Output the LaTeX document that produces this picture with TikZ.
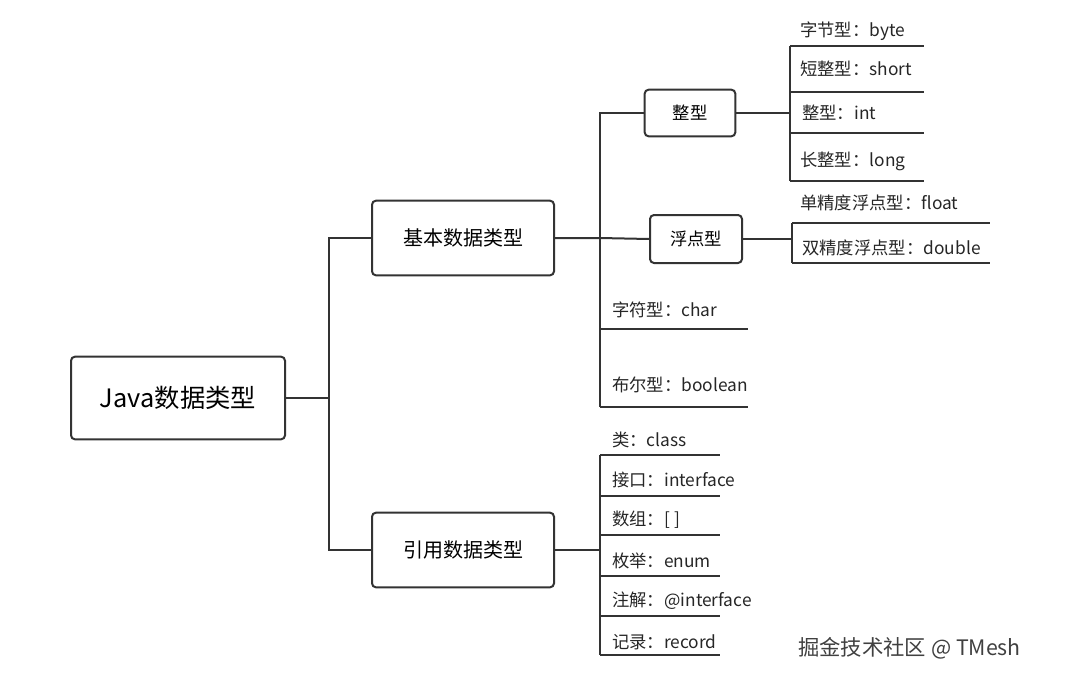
\documentclass[tikz,border=0pt]{standalone}
\usepackage{fontspec}
\setmainfont{Noto Sans CJK SC}
\usetikzlibrary{positioning}
\tikzset{
  box/.style={draw, rectangle, rounded corners=3pt, line width=1.5pt, draw=black!80, align=center},
  leaf/.style={anchor=west, inner sep=0pt, font=\fontsize{13pt}{15pt}\selectfont, text=black!85},
  wire/.style={line width=1.5pt, draw=black!80},
}
\begin{document}
\begin{tikzpicture}[x=0.75pt, y=-0.75pt]
    \useasboundingbox (0,0) rectangle (1082,682);
    % Bloques
    \node [box, minimum width=160.5pt, minimum height=62pt, font=\fontsize{19pt}{22pt}\selectfont] (java) at (178,398) {Java数据类型};
    \node [box, minimum width=136.5pt, minimum height=56pt, font=\fontsize{15pt}{18pt}\selectfont] (basic) at (463,238) {基本数据类型};
    \node [box, minimum width=136.5pt, minimum height=56pt, font=\fontsize{15pt}{18pt}\selectfont] (ref) at (463,550) {引用数据类型};
    \node [box, minimum width=68pt, minimum height=35pt, font=\fontsize{13pt}{15pt}\selectfont] (int) at (690,113) {整型};
    \node [box, minimum width=69pt, minimum height=36pt, font=\fontsize{13pt}{15pt}\selectfont] (float) at (696,239) {浮点型};

    % Tronco
    \coordinate (trunk) at (329,398);
    \draw[wire] (java) -- (trunk);
    \draw[wire] (basic.west) -- (329,238) -- (329,550) -- (ref.west);

    % Basicos
    \draw[wire] (basic.east) -- (600,238) -- (float.west);
    \draw[wire] (int.west) -- (600,113) -- (600,407);
    \node [leaf] (char) at (612,310) {字符型：char};
    \node [leaf] (bool) at (612,385) {布尔型：boolean};
    \draw[wire] (600,329) -- (748,329);
    \draw[wire] (600,407) -- (748,407);

    % Enteros
    \draw[wire] (int.east) -- (790,113);
    \draw[wire] (790,46) -- (790,181);
    \foreach \y in {46,92,133,181} \draw[wire] (790,\y) -- (924,\y);
    \node [leaf] (byte) at (800,31) {字节型：byte};
    \node [leaf] (short) at (800,69) {短整型：short};
    \node [leaf] (intl) at (802,113) {整型：int};
    \node [leaf] (long) at (800,161) {长整型：long};

    % Flotantes
    \draw[wire] (float.east) -- (792,239);
    \draw[wire] (792,223) -- (792,263);
    \foreach \y in {223,263} \draw[wire] (792,\y) -- (990,\y);
    \node [leaf] (single) at (800,203) {单精度浮点型：float};
    \node [leaf] (double) at (802,248) {双精度浮点型：double};

    % Referencias
    \draw[wire] (ref.east) -- (600,550);
    \draw[wire] (600,455) -- (600,655);
    \foreach \y in {455,496,535,576,616,655} \draw[wire] (600,\y) -- (720,\y);
    \node [leaf] (cls) at (612,440) {类：class};
    \node [leaf] (iface) at (612,480) {接口：interface};
    \node [leaf] (arr) at (612,520) {数组：[ ]};
    \node [leaf] (enum) at (612,561) {枚举：enum};
    \node [leaf] (anno) at (612,601) {注解：@interface};
    \node [leaf] (rec) at (612,642) {记录：record};

    \node [anchor=west, inner sep=0pt, font=\fontsize{16pt}{18pt}\selectfont, text=black!75] (mark) at (798,648) {掘金技术社区 @ TMesh};
\end{tikzpicture}
\end{document}
